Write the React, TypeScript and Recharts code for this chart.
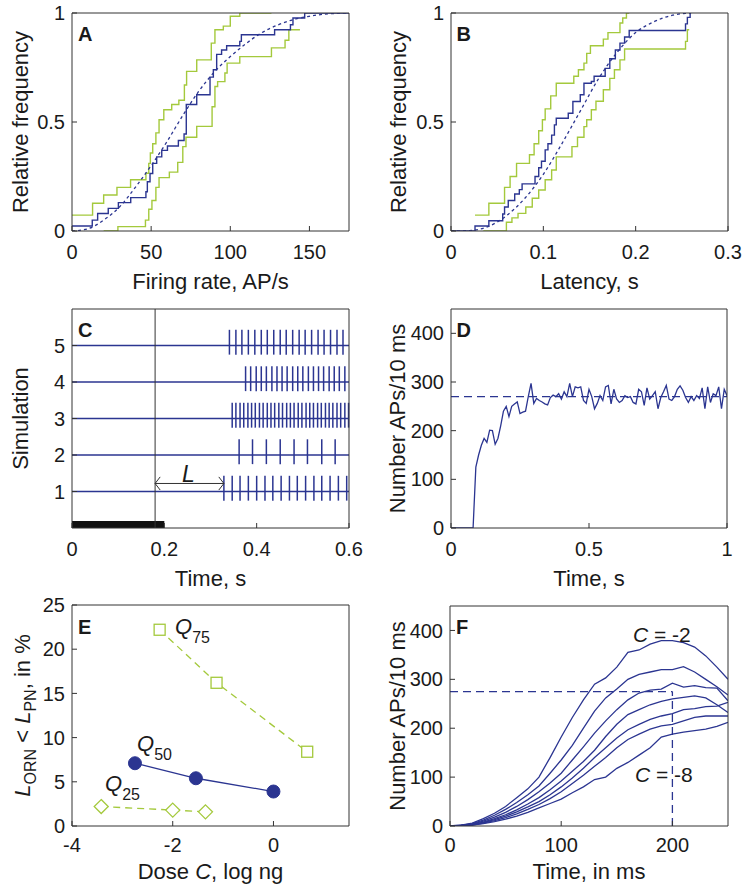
import React from 'react';
import { LineChart, Line, XAxis, YAxis, ReferenceLine, ReferenceArea } from 'recharts';

const NAVY = '#2b3591';
const GREEN = '#a4c93c';
const INK = '#1a1a1a';
const FRAME = '#333';
const FONT = '"Liberation Sans", Arial, Helvetica, sans-serif';

// A: firing-rate CDFs (AP/s vs relative frequency)
const rateBlueX = [0, 12.8, 16.2, 22.9, 29.3, 37.1, 46.7, 47.6, 49.3, 51, 53.5, 56.7, 60.3, 67.2, 70.8, 72.2, 78.8, 87.2, 89.3, 91.4, 94.5, 97.7, 106, 107, 128, 138, 139.6, 147, 175];
const rateBlueY = [0.023, 0.05, 0.08, 0.104, 0.13, 0.153, 0.18, 0.226, 0.264, 0.31, 0.34, 0.37, 0.39, 0.415, 0.445, 0.58, 0.625, 0.706, 0.74, 0.81, 0.83, 0.85, 0.87, 0.9, 0.923, 0.946, 0.977, 1, 1];
const rateHiX = [0, 13, 20, 28.4, 37, 46.7, 48.5, 49.5, 51, 53, 55, 58, 63, 67.5, 71, 72.4, 78.8, 88, 90.3, 95.6, 100, 106, 126];
const rateHiY = [0.073, 0.127, 0.165, 0.2, 0.235, 0.265, 0.31, 0.358, 0.4, 0.45, 0.51, 0.556, 0.58, 0.6, 0.67, 0.732, 0.785, 0.862, 0.923, 0.94, 0.985, 1, 1];
const rateLoX = [20, 29, 46.4, 48.5, 50.5, 53, 55, 61.5, 66.8, 70, 72, 78.8, 88.5, 90.3, 92, 96.6, 98, 106, 126, 134.6, 137, 144];
const rateLoY = [0, 0.02, 0.05, 0.1, 0.14, 0.2, 0.245, 0.27, 0.315, 0.387, 0.43, 0.48, 0.57, 0.663, 0.685, 0.725, 0.77, 0.8, 0.84, 0.875, 0.923, 0.923];
const rateFitX = [0, 10, 20, 30, 40, 50, 60, 70, 80, 90, 100, 110, 120, 130, 140, 150, 160, 175];
const rateFitY = [0, 0.01, 0.05, 0.11, 0.2, 0.3, 0.41, 0.53, 0.64, 0.73, 0.8, 0.86, 0.91, 0.945, 0.97, 0.985, 0.995, 1];

// B: latency CDFs (s vs relative frequency)
const latBlueX = [0, 0.026, 0.041, 0.056, 0.058, 0.062, 0.069, 0.074, 0.077, 0.091, 0.095, 0.098, 0.102, 0.105, 0.109, 0.112, 0.114, 0.127, 0.132, 0.14, 0.144, 0.152, 0.155, 0.167, 0.172, 0.178, 0.183, 0.188, 0.193, 0.254, 0.256, 0.259, 0.26];
const latBlueY = [0, 0.023, 0.047, 0.078, 0.11, 0.14, 0.17, 0.19, 0.216, 0.25, 0.29, 0.32, 0.372, 0.4, 0.44, 0.487, 0.517, 0.54, 0.594, 0.625, 0.678, 0.686, 0.71, 0.746, 0.79, 0.83, 0.862, 0.89, 0.92, 0.95, 0.98, 1, 1];
const latHiX = [0.026, 0.041, 0.058, 0.064, 0.071, 0.085, 0.09, 0.095, 0.099, 0.102, 0.108, 0.114, 0.133, 0.138, 0.144, 0.147, 0.151, 0.165, 0.17, 0.183, 0.186, 0.19, 0.193];
const latHiY = [0.073, 0.127, 0.2, 0.25, 0.31, 0.35, 0.4, 0.46, 0.51, 0.56, 0.62, 0.678, 0.71, 0.74, 0.77, 0.815, 0.85, 0.88, 0.91, 0.954, 0.977, 1, 1];
const latLoX = [0.035, 0.06, 0.066, 0.0726, 0.081, 0.088, 0.095, 0.102, 0.109, 0.114, 0.131, 0.137, 0.144, 0.147, 0.152, 0.157, 0.165, 0.172, 0.177, 0.183, 0.188, 0.254, 0.256, 0.258];
const latLoY = [0, 0.04, 0.06, 0.081, 0.11, 0.15, 0.188, 0.235, 0.28, 0.34, 0.387, 0.43, 0.479, 0.51, 0.556, 0.595, 0.648, 0.7, 0.74, 0.785, 0.835, 0.87, 0.923, 0.923];
const latFitX = [0, 0.02, 0.04, 0.06, 0.08, 0.1, 0.12, 0.14, 0.16, 0.18, 0.2, 0.22, 0.24, 0.26];
const latFitY = [0, 0.002, 0.02, 0.07, 0.15, 0.26, 0.4, 0.55, 0.7, 0.82, 0.91, 0.96, 0.99, 1];

// C: spike rasters, one list of spike times (s) per simulation
const simRows = [1, 2, 3, 4, 5];
const spikes1 = [0.329, 0.347, 0.364, 0.382, 0.4, 0.418, 0.435, 0.453, 0.471, 0.488, 0.506, 0.524, 0.541, 0.559, 0.577, 0.595];
const spikes2 = [0.362, 0.391, 0.421, 0.451, 0.481, 0.51, 0.541, 0.57];
const spikes3 = [0.347, 0.355, 0.364, 0.372, 0.381, 0.389, 0.397, 0.406, 0.414, 0.423, 0.431, 0.439, 0.448, 0.456, 0.465, 0.473, 0.481, 0.49, 0.498, 0.507, 0.515, 0.523, 0.532, 0.54, 0.549, 0.557, 0.565, 0.574, 0.582, 0.591, 0.599];
const spikes4 = [0.376, 0.387, 0.399, 0.41, 0.421, 0.433, 0.444, 0.455, 0.466, 0.478, 0.489, 0.5, 0.512, 0.523, 0.534, 0.545, 0.557, 0.568, 0.579, 0.591];
const spikes5 = [0.341, 0.355, 0.368, 0.382, 0.396, 0.41, 0.423, 0.437, 0.451, 0.464, 0.478, 0.492, 0.505, 0.519, 0.533, 0.546, 0.56, 0.574, 0.587];
const spikeRows = [spikes1, spikes2, spikes3, spikes4, spikes5];
const stimEnd = 0.2;
const stimOnset = 0.18;
const latencyEnd = 0.329;

// D: population rate, APs per 10 ms bin
const D_BIN = 0.01;
const popRate = [
  0, 0, 0, 0, 0, 0, 0, 0, 0, 125,
  150, 170, 184, 176, 201, 200, 172, 184, 210, 240,
  250, 229, 250, 255, 259, 235, 238, 240, 270, 297,
  256, 266, 262, 259, 255, 253, 268, 273, 270, 276,
  265, 280, 270, 297, 270, 290, 288, 290, 262, 256,
  285, 270, 245, 256, 272, 262, 290, 293, 255, 285,
  265, 258, 262, 272, 268, 270, 258, 255, 285, 280,
  252, 288, 265, 272, 280, 245, 268, 280, 293, 265,
  262, 270, 285, 292, 283, 268, 258, 270, 262, 272,
  266, 288, 245, 290, 258, 276, 272, 290, 245, 285,
  272,
];
const popMean = 270;

// E: % of trials with L_ORN < L_PN vs dose
const q75Dose = [-2.26, -1.13, 0.67];
const q75Pct = [22.2, 16.2, 8.4];
const q50Dose = [-2.75, -1.54, 0];
const q50Pct = [7.1, 5.4, 3.9];
const q25Dose = [-3.42, -2.0, -1.35];
const q25Pct = [2.2, 1.8, 1.6];

// F: population rate vs time for doses C = -2 ... -8
const fTime = [0, 10, 20, 30, 40, 50, 60, 70, 80, 90, 100, 110, 120, 130, 140, 150, 160, 170, 180, 190, 200, 210, 220, 230, 240, 250];
const fDoseM2 = [0, 2, 6, 15, 26, 40, 58, 76, 100, 140, 182, 222, 258, 290, 303, 325, 355, 360, 372, 379, 379, 375, 366, 348, 325, 300];
const fDoseM3 = [0, 1, 5, 12, 22, 34, 48, 64, 82, 108, 135, 165, 200, 235, 262, 280, 300, 310, 315, 320, 320, 326, 315, 300, 285, 268];
const fDoseM4 = [0, 1, 4, 10, 18, 28, 40, 54, 70, 88, 108, 135, 162, 190, 215, 238, 258, 272, 278, 280, 292, 284, 287, 283, 282, 256];
const fDoseM5 = [0, 1, 3, 8, 15, 23, 33, 45, 58, 74, 92, 112, 132, 155, 183, 208, 228, 238, 248, 255, 260, 263, 266, 262, 248, 232];
const fDoseM6 = [0, 1, 3, 7, 13, 20, 29, 39, 50, 64, 80, 98, 118, 140, 160, 180, 197, 208, 218, 225, 230, 238, 240, 244, 245, 253];
const fDoseM7 = [0, 0.5, 2, 6, 11, 17, 25, 34, 44, 56, 70, 87, 104, 122, 140, 160, 177, 188, 198, 205, 208, 215, 222, 225, 225, 225];
const fDoseM8 = [0, 0.5, 2, 5, 9, 14, 20, 28, 37, 46, 55, 68, 80, 95, 100, 118, 130, 145, 160, 182, 188, 192, 195, 198, 204, 212];
const fCurves = [fDoseM2, fDoseM3, fDoseM4, fDoseM5, fDoseM6, fDoseM7, fDoseM8];
const fRef = 275;
const fRefTime = 200;

const zip = (xs: number[], ys: number[]) => xs.map((x, i) => ({ x, y: ys[i] }));

const tickStyle = { fill: INK, fontSize: 20, fontFamily: FONT };
const frameLine = { stroke: FRAME, strokeWidth: 1 };

const xTitle = (content: React.ReactNode, gap: number) => (p: any) => {
  const vb = p.viewBox;
  return (
    <text x={vb.x + vb.width / 2} y={vb.y + gap} textAnchor="middle" fontSize={22} fontFamily={FONT} fill={INK}>
      {content}
    </text>
  );
};

const yTitle = (content: React.ReactNode, off: number) => (p: any) => {
  const vb = p.viewBox;
  const cx = vb.x + off;
  const cy = vb.y + vb.height / 2;
  return (
    <text x={cx} y={cy} transform={`rotate(-90, ${cx}, ${cy})`} textAnchor="middle" fontSize={22} fontFamily={FONT} fill={INK}>
      {content}
    </text>
  );
};

type Cfg = {
  xDomain: number[];
  yDomain: number[];
  xTicks: number[];
  yTicks: number[];
  xLabel: React.ReactNode;
  yLabel: React.ReactNode;
  tickGap: number;
  titleGap: number;
  yOff: number;
};

// MATLAB-style boxed axes with inward ticks on all four sides
function axes(c: Cfg) {
  return [
    <XAxis key="xb" dataKey="x" type="number" domain={c.xDomain} ticks={c.xTicks} allowDataOverflow interval={0}
      height={65} tickSize={-5} tickMargin={c.tickGap} tick={tickStyle} axisLine={frameLine} tickLine={frameLine}
      label={xTitle(c.xLabel, c.titleGap)} />,
    <XAxis key="xt" xAxisId="top" orientation="top" type="number" domain={c.xDomain} ticks={c.xTicks} allowDataOverflow
      interval={0} height={1} tickSize={-5} tick={false} axisLine={frameLine} tickLine={frameLine} />,
    <YAxis key="yl" type="number" domain={c.yDomain} ticks={c.yTicks} allowDataOverflow interval={0}
      width={70} tickSize={-5} tickMargin={12} tick={tickStyle} axisLine={frameLine} tickLine={frameLine}
      label={yTitle(c.yLabel, c.yOff)} />,
    <YAxis key="yr" yAxisId="right" orientation="right" type="number" domain={c.yDomain} ticks={c.yTicks} allowDataOverflow
      interval={0} width={1} tickSize={-5} tick={false} axisLine={frameLine} tickLine={frameLine} />,
  ];
}

const chartBox = (left: number, top: number, w: number, h: number) => ({
  style: { position: 'absolute' as const, left: left - 70, top: top - 10 },
  width: 70 + w + 1 + 20,
  height: 10 + h + 65,
  margin: { top: 9, right: 20, bottom: 0, left: 0 },
});

const Txt: React.FC<{ x: number; y: number; size?: number; bold?: boolean; children: React.ReactNode }> = ({ x, y, size = 20, bold, children }) => (
  <div style={{ position: 'absolute', left: x, top: y, fontSize: size, lineHeight: 1, fontFamily: FONT, color: INK, fontWeight: bold ? 700 : 400, whiteSpace: 'nowrap' }}>
    {children}
  </div>
);

const Q: React.FC<{ sub: string }> = ({ sub }) => (
  <>
    <i>Q</i>
    <span style={{ fontSize: 16, position: 'relative', top: 9 }}>{sub}</span>
  </>
);

const squareDot = (p: any) => (
  <rect key={`s${p.index}`} x={p.cx - 5.5} y={p.cy - 5.5} width={11} height={11} fill="#fff" stroke={GREEN} strokeWidth={1.3} />
);
const diamondDot = (p: any) => (
  <path key={`d${p.index}`} d={`M${p.cx},${p.cy - 7} L${p.cx + 7},${p.cy} L${p.cx},${p.cy + 7} L${p.cx - 7},${p.cy} Z`} fill="#fff" stroke={GREEN} strokeWidth={1.3} />
);
const discDot = (p: any) => (
  <circle key={`c${p.index}`} cx={p.cx} cy={p.cy} r={6.5} fill={NAVY} stroke={NAVY} />
);

export default function App() {
  const rowTop = { tickGap: 19, titleGap: 58 };
  const rowBot = { tickGap: 17, titleGap: 53 };
  return (
    <div style={{ position: 'absolute', left: 0, top: 0, width: 748, height: 895, background: '#fff' }}>
      {/* A */}
      <LineChart {...chartBox(72, 13, 277, 218)}>
        {axes({ xDomain: [0, 175], yDomain: [0, 1], xTicks: [0, 50, 100, 150], yTicks: [0, 0.5, 1], xLabel: 'Firing rate, AP/s', yLabel: 'Relative frequency', yOff: 26, ...rowTop })}
        <Line data={zip(rateHiX, rateHiY)} dataKey="y" type="stepAfter" stroke={GREEN} strokeWidth={1.4} dot={false} isAnimationActive={false} />
        <Line data={zip(rateLoX, rateLoY)} dataKey="y" type="stepAfter" stroke={GREEN} strokeWidth={1.4} dot={false} isAnimationActive={false} />
        <Line data={zip(rateFitX, rateFitY)} dataKey="y" type="monotone" stroke={NAVY} strokeWidth={1.3} strokeDasharray="3 3" dot={false} isAnimationActive={false} />
        <Line data={zip(rateBlueX, rateBlueY)} dataKey="y" type="stepAfter" stroke={NAVY} strokeWidth={1.4} dot={false} isAnimationActive={false} />
      </LineChart>

      {/* B */}
      <LineChart {...chartBox(451, 13, 277, 218)}>
        {axes({ xDomain: [0, 0.3], yDomain: [0, 1], xTicks: [0, 0.1, 0.2, 0.3], yTicks: [0, 0.5, 1], xLabel: 'Latency, s', yLabel: 'Relative frequency', yOff: 25, ...rowTop })}
        <Line data={zip(latHiX, latHiY)} dataKey="y" type="stepAfter" stroke={GREEN} strokeWidth={1.4} dot={false} isAnimationActive={false} />
        <Line data={zip(latLoX, latLoY)} dataKey="y" type="stepAfter" stroke={GREEN} strokeWidth={1.4} dot={false} isAnimationActive={false} />
        <Line data={zip(latFitX, latFitY)} dataKey="y" type="monotone" stroke={NAVY} strokeWidth={1.3} strokeDasharray="3 3" dot={false} isAnimationActive={false} />
        <Line data={zip(latBlueX, latBlueY)} dataKey="y" type="stepAfter" stroke={NAVY} strokeWidth={1.4} dot={false} isAnimationActive={false} />
      </LineChart>

      {/* C */}
      <LineChart {...chartBox(72, 309, 277, 219)}>
        {axes({ xDomain: [0, 0.6], yDomain: [0, 6], xTicks: [0, 0.2, 0.4, 0.6], yTicks: [1, 2, 3, 4, 5], xLabel: 'Time, s', yLabel: 'Simulation', yOff: 26, ...rowTop })}
        {simRows.map((r) => (
          <Line key={`row${r}`} data={[{ x: 0, y: r }, { x: 0.6, y: r }]} dataKey="y" stroke={NAVY} strokeWidth={1.5} dot={false} isAnimationActive={false} />
        ))}
        {spikeRows.map((times, i) =>
          times.map((t, j) => (
            <ReferenceLine key={`sp${i}-${j}`} segment={[{ x: t, y: simRows[i] - 0.25 }, { x: t, y: simRows[i] + 0.43 }]} stroke={NAVY} strokeWidth={1.5} />
          ))
        )}
        <ReferenceLine x={stimOnset} stroke={FRAME} strokeWidth={1} />
        <ReferenceArea x1={0} x2={stimEnd} y1={0} y2={0.19} fill="#111" fillOpacity={1} stroke="none" />
        <ReferenceLine segment={[{ x: stimOnset, y: 1.22 }, { x: latencyEnd, y: 1.22 }]} stroke={FRAME} strokeWidth={1} />
        <ReferenceLine segment={[{ x: stimOnset, y: 1.22 }, { x: stimOnset + 0.011, y: 1.4 }]} stroke={FRAME} strokeWidth={1} />
        <ReferenceLine segment={[{ x: stimOnset, y: 1.22 }, { x: stimOnset + 0.011, y: 1.04 }]} stroke={FRAME} strokeWidth={1} />
        <ReferenceLine segment={[{ x: latencyEnd, y: 1.22 }, { x: latencyEnd - 0.011, y: 1.4 }]} stroke={FRAME} strokeWidth={1} />
        <ReferenceLine segment={[{ x: latencyEnd, y: 1.22 }, { x: latencyEnd - 0.011, y: 1.04 }]} stroke={FRAME} strokeWidth={1} />
      </LineChart>

      {/* D */}
      <LineChart {...chartBox(451, 309, 276, 219)}>
        {axes({ xDomain: [0, 1], yDomain: [0, 450], xTicks: [0, 0.5, 1], yTicks: [0, 100, 200, 300, 400], xLabel: 'Time, s', yLabel: 'Number APs/10 ms', yOff: 24, ...rowTop })}
        <ReferenceLine y={popMean} stroke={NAVY} strokeWidth={1.4} strokeDasharray="8 5" />
        <Line data={popRate.map((v, i) => ({ x: i * D_BIN, y: v }))} dataKey="y" type="linear" stroke={NAVY} strokeWidth={1.3} dot={false} isAnimationActive={false} />
      </LineChart>

      {/* E */}
      <LineChart {...chartBox(72, 605, 277, 221)}>
        {axes({
          xDomain: [-4, 1.5], yDomain: [0, 25], xTicks: [-4, -2, 0], yTicks: [0, 5, 10, 15, 20, 25],
          xLabel: <>Dose <tspan fontStyle="italic">C</tspan>, log ng</>,
          yLabel: (
            <>
              <tspan fontStyle="italic">L</tspan>
              <tspan fontSize={16} dy={6}>ORN</tspan>
              <tspan dy={-6}> &lt; </tspan>
              <tspan fontStyle="italic">L</tspan>
              <tspan fontSize={16} dy={6}>PN</tspan>
              <tspan dy={-6}>, in %</tspan>
            </>
          ),
          yOff: 28, ...rowBot,
        })}
        <Line data={zip(q75Dose, q75Pct)} dataKey="y" type="linear" stroke={GREEN} strokeWidth={1.3} strokeDasharray="7 5" dot={squareDot} isAnimationActive={false} />
        <Line data={zip(q25Dose, q25Pct)} dataKey="y" type="linear" stroke={GREEN} strokeWidth={1.3} strokeDasharray="7 5" dot={diamondDot} isAnimationActive={false} />
        <Line data={zip(q50Dose, q50Pct)} dataKey="y" type="linear" stroke={NAVY} strokeWidth={1.3} dot={discDot} isAnimationActive={false} />
      </LineChart>

      {/* F */}
      <LineChart {...chartBox(450, 606, 278, 220)}>
        {axes({ xDomain: [0, 250], yDomain: [0, 450], xTicks: [0, 100, 200], yTicks: [0, 100, 200, 300, 400], xLabel: 'Time, in ms', yLabel: 'Number APs/10 ms', yOff: 25, ...rowBot })}
        <ReferenceLine segment={[{ x: 0, y: fRef }, { x: fRefTime, y: fRef }]} stroke={NAVY} strokeWidth={1.3} strokeDasharray="8 5" />
        <ReferenceLine segment={[{ x: fRefTime, y: 0 }, { x: fRefTime, y: fRef }]} stroke={NAVY} strokeWidth={1.3} strokeDasharray="8 5" />
        {fCurves.map((ys, i) => (
          <Line key={`f${i}`} data={zip(fTime, ys)} dataKey="y" type="linear" stroke={NAVY} strokeWidth={1.3} dot={false} isAnimationActive={false} />
        ))}
      </LineChart>

      {/* panel letters and annotations */}
      <Txt x={78} y={24} size={20} bold>A</Txt>
      <Txt x={456.5} y={24} size={20} bold>B</Txt>
      <Txt x={78} y={320} size={20} bold>C</Txt>
      <Txt x={456.5} y={320} size={20} bold>D</Txt>
      <Txt x={78} y={617} size={20} bold>E</Txt>
      <Txt x={456} y={617} size={20} bold>F</Txt>
      <Txt x={182} y={463} size={23}><i>L</i></Txt>
      <Txt x={175} y={616} size={22}><Q sub="75" /></Txt>
      <Txt x={137} y={733} size={22}><Q sub="50" /></Txt>
      <Txt x={105} y={773} size={22}><Q sub="25" /></Txt>
      <Txt x={633} y={624} size={21}><i>C</i> = -2</Txt>
      <Txt x={635} y={764} size={21}><i>C</i> = -8</Txt>
    </div>
  );
}
